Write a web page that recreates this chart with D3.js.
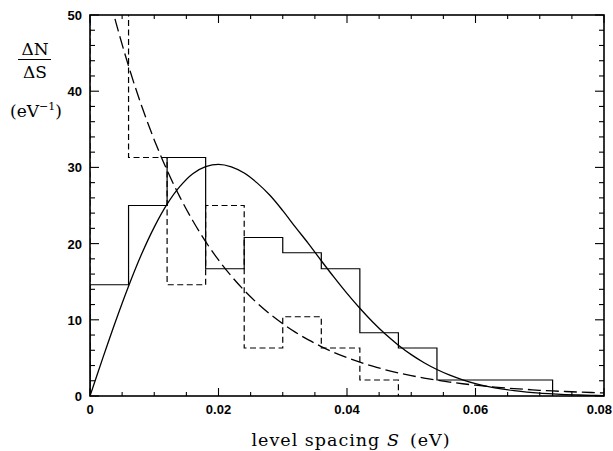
<!DOCTYPE html>
<html>
<head>
<meta charset="utf-8">
<script src="https://cdn.jsdelivr.net/npm/d3@7"></script>
<style>
  html, body { margin: 0; padding: 0; background: #fff; }
  svg { display: block; }
  .tick-label { font-family: "Liberation Sans", Arial, sans-serif; font-weight: bold; font-size: 13px; fill: #000; }
  .serif { font-family: "DejaVu Serif", "Liberation Serif", serif; fill: #000; }
</style>
</head>
<body>
<svg id="chart" width="613" height="451"></svg>
<script>
// Histogram bin width (eV) and bin values, ΔN/ΔS in eV^-1
const binWidth = 0.006;
const solidHist = [14.6, 25.0, 31.3, 16.7, 20.8, 18.8, 16.7, 8.3, 6.3, 2.1, 2.1, 2.1];
const dashedHist = [58.3, 31.3, 14.6, 25.0, 6.3, 10.4, 6.3, 2.1];

// Smooth reference curves sampled every 0.002 eV
const curveS = [0, 0.002, 0.004, 0.006, 0.008, 0.010, 0.012, 0.014, 0.016, 0.018,
  0.020, 0.022, 0.024, 0.026, 0.028, 0.030, 0.032, 0.034, 0.036, 0.038,
  0.040, 0.042, 0.044, 0.046, 0.048, 0.050, 0.052, 0.054, 0.056, 0.058,
  0.060, 0.062, 0.064, 0.066, 0.068, 0.070, 0.072, 0.074, 0.076, 0.078, 0.080];
const wignerCurve = [0, 5.0, 9.85, 14.41, 18.56, 22.16, 25.17, 27.5, 29.17, 30.09,
  30.4, 30.08, 29.26, 27.97, 26.34, 24.33, 22.13, 20.0, 17.75, 15.56,
  13.46, 11.51, 9.71, 8.09, 6.67, 5.43, 4.37, 3.48, 2.73, 2.13,
  1.63, 1.24, 0.93, 0.70, 0.51, 0.37, 0.27, 0.19, 0.13, 0.09, 0.06];
const poissonCurve = [63.29, 55.77, 49.14, 43.3, 38.15, 33.61, 29.62, 26.1, 23.0, 20.26,
  17.85, 15.73, 13.86, 12.21, 10.76, 9.48, 8.35, 7.36, 6.49, 5.71,
  5.04, 4.44, 3.91, 3.44, 3.03, 2.67, 2.36, 2.08, 1.83, 1.61,
  1.42, 1.25, 1.10, 0.97, 0.86, 0.75, 0.66, 0.59, 0.52, 0.46, 0.40];

// Axis ticks
const xTickLabels = [0, 0.02, 0.04, 0.06, 0.08];
const yTickLabels = [0, 10, 20, 30, 40, 50];

const svg = d3.select("#chart");
const margin = { left: 90, right: 9, top: 15, bottom: 55 };
const W = 613, H = 451;
const x = d3.scaleLinear().domain([0, 0.08]).range([margin.left, W - margin.right]);
const y = d3.scaleLinear().domain([0, 50]).range([H - margin.bottom, margin.top]);

svg.append("defs").append("clipPath").attr("id", "plot-clip")
  .append("rect")
  .attr("x", x(0)).attr("y", y(50))
  .attr("width", x(0.08) - x(0)).attr("height", y(0) - y(50));

const plot = svg.append("g").attr("clip-path", "url(#plot-clip)");

function histPoints(values) {
  const pts = [[0, 0]];
  values.forEach((v, i) => pts.push([i * binWidth, v]));
  pts.push([values.length * binWidth, 0]);
  return pts;
}

const stepLine = d3.line()
  .x(d => x(d[0])).y(d => y(d[1]))
  .curve(d3.curveStepAfter);

plot.append("path")
  .attr("d", stepLine(histPoints(solidHist)))
  .attr("fill", "none").attr("stroke", "#000").attr("stroke-width", 1.2);

plot.append("path")
  .attr("d", stepLine(histPoints(dashedHist)))
  .attr("fill", "none").attr("stroke", "#000").attr("stroke-width", 1.2)
  .attr("stroke-dasharray", "6,3.5");

const smooth = d3.line()
  .x((d, i) => x(curveS[i])).y(d => y(d))
  .curve(d3.curveCatmullRom);

plot.append("path")
  .attr("d", smooth(wignerCurve))
  .attr("fill", "none").attr("stroke", "#000").attr("stroke-width", 1.3);

plot.append("path")
  .attr("d", smooth(poissonCurve))
  .attr("fill", "none").attr("stroke", "#000").attr("stroke-width", 1.3)
  .attr("stroke-dasharray", "13,5");

// Frame
svg.append("rect")
  .attr("x", x(0)).attr("y", y(50))
  .attr("width", x(0.08) - x(0)).attr("height", y(0) - y(50))
  .attr("fill", "none").attr("stroke", "#000").attr("stroke-width", 1.6);

// Inward ticks on all four sides
const xMinor = d3.range(0, 0.0801, 0.005);
const yMinor = d3.range(0, 50.1, 2);
const ticks = svg.append("g").attr("stroke", "#000").attr("stroke-width", 1.1);
xMinor.forEach(v => {
  const isMajor = Math.abs(v / 0.02 - Math.round(v / 0.02)) < 1e-6;
  const len = isMajor ? 8 : 4;
  ticks.append("line").attr("x1", x(v)).attr("x2", x(v)).attr("y1", y(0)).attr("y2", y(0) - len);
  ticks.append("line").attr("x1", x(v)).attr("x2", x(v)).attr("y1", y(50)).attr("y2", y(50) + len);
});
yMinor.forEach(v => {
  const isMajor = Math.abs(v / 10 - Math.round(v / 10)) < 1e-6;
  const len = isMajor ? 9 : 5;
  ticks.append("line").attr("x1", x(0)).attr("x2", x(0) + len).attr("y1", y(v)).attr("y2", y(v));
  ticks.append("line").attr("x1", x(0.08)).attr("x2", x(0.08) - len).attr("y1", y(v)).attr("y2", y(v));
});

// Tick labels; the last one is kept inside the page edge
const lastX = xTickLabels[xTickLabels.length - 1];
svg.append("g").selectAll("text").data(xTickLabels).join("text")
  .attr("class", "tick-label")
  .attr("x", d => d === lastX ? W - 1 : x(d)).attr("y", y(0) + 18)
  .attr("text-anchor", d => d === lastX ? "end" : "middle")
  .text(d => d === 0 ? "0" : d3.format(".2f")(d));

svg.append("g").selectAll("text").data(yTickLabels).join("text")
  .attr("class", "tick-label")
  .attr("x", x(0) - 8).attr("y", d => y(d) + 5)
  .attr("text-anchor", "end")
  .text(d => d);

// X-axis title
const xt = svg.append("text").attr("class", "serif")
  .attr("x", 351).attr("y", 446).attr("text-anchor", "middle")
  .attr("font-size", 17.5).attr("letter-spacing", 1)
  .attr("xml:space", "preserve");
xt.append("tspan").text("level spacing ");
xt.append("tspan").attr("font-style", "italic").text("S");
xt.append("tspan").attr("dx", 10).text("(eV)");

// Y-axis title: ΔN / ΔS (eV^-1)
svg.append("text").attr("class", "serif")
  .attr("x", 35).attr("y", 55).attr("text-anchor", "middle").attr("font-size", 17)
  .text("ΔN");
svg.append("line")
  .attr("x1", 18).attr("x2", 51).attr("y1", 59.5).attr("y2", 59.5)
  .attr("stroke", "#000").attr("stroke-width", 1.1);
svg.append("text").attr("class", "serif")
  .attr("x", 35).attr("y", 78).attr("text-anchor", "middle").attr("font-size", 17)
  .text("ΔS");
const unit = svg.append("text").attr("class", "serif")
  .attr("x", 36).attr("y", 117).attr("text-anchor", "middle").attr("font-size", 17);
unit.append("tspan").text("(eV");
unit.append("tspan").attr("font-size", 11).attr("dy", -7).text("−1");
unit.append("tspan").attr("dy", 7).text(")");
</script>
</body>
</html>
